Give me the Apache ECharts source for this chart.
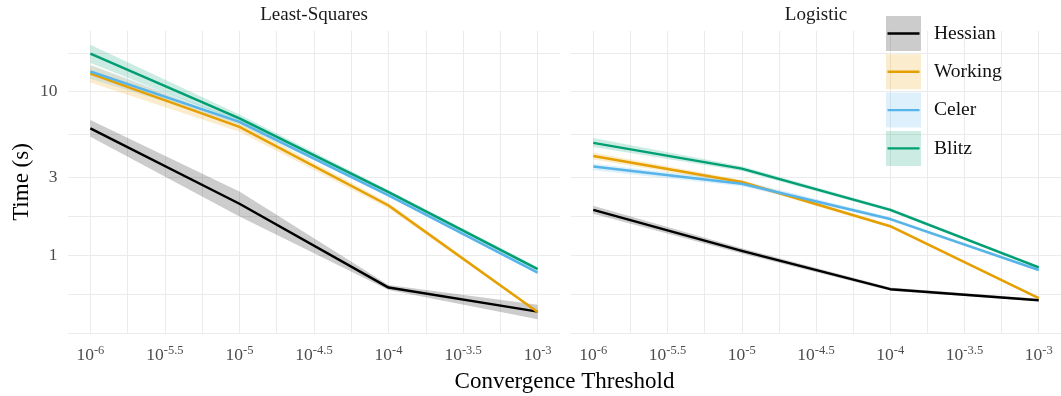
<!DOCTYPE html>
<html><head><meta charset="utf-8">
<script src="https://cdn.jsdelivr.net/npm/echarts@6/dist/echarts.min.js"></script>
<style>html,body{margin:0;padding:0;background:#fff}#c{width:1061px;height:396px}</style>
</head><body><div id="c"></div>
<script>
// ---------- data (seconds) ----------
const thresholds = [1e-6, 1e-5, 1e-4, 1e-3];
const methods = ['Hessian', 'Working', 'Celer', 'Blitz'];
const panels = ['Least-Squares', 'Logistic'];
const xTickExponents = ['-6', '-5.5', '-5', '-4.5', '-4', '-3.5', '-3'];
const yTickLabels = ['1', '3', '10'];

// Least-Squares
const lsHessian   = [5.96, 2.06, 0.632, 0.450];
const lsHessianLo = [5.29, 1.72, 0.610, 0.404];
const lsHessianHi = [6.70, 2.45, 0.655, 0.495];
const lsWorking   = [12.9, 6.09, 2.01, 0.448];
const lsWorkingLo = [11.4, 5.68, 1.93, 0.440];
const lsWorkingHi = [14.6, 6.50, 2.09, 0.456];
const lsCeler     = [13.3, 6.54, 2.32, 0.780];
const lsCelerLo   = [12.0, 6.30, 2.27, 0.765];
const lsCelerHi   = [14.6, 6.80, 2.38, 0.795];
const lsBlitz     = [17.1, 6.86, 2.43, 0.820];
const lsBlitzLo   = [15.0, 6.55, 2.37, 0.800];
const lsBlitzHi   = [19.4, 7.25, 2.50, 0.845];

// Logistic
const lgHessian   = [1.89, 1.06, 0.618, 0.529];
const lgHessianLo = [1.79, 1.02, 0.605, 0.520];
const lgHessianHi = [2.00, 1.10, 0.632, 0.540];
const lgWorking   = [4.04, 2.80, 1.50, 0.544];
const lgWorkingLo = [3.85, 2.72, 1.47, 0.535];
const lgWorkingHi = [4.25, 2.88, 1.53, 0.553];
const lgCeler     = [3.48, 2.73, 1.66, 0.810];
const lgCelerLo   = [3.30, 2.64, 1.62, 0.795];
const lgCelerHi   = [3.62, 2.86, 1.70, 0.825];
const lgBlitz     = [4.86, 3.38, 1.89, 0.840];
const lgBlitzLo   = [4.58, 3.27, 1.85, 0.825];
const lgBlitzHi   = [5.20, 3.50, 1.94, 0.860];

// ---------- styling ----------
const colors = ['#000000', '#E69F00', '#56B4E9', '#009E73'];
const FONT = 'Liberation Serif, "DejaVu Serif", serif';

const panelData = [
  { mid: [lsHessian, lsWorking, lsCeler, lsBlitz],
    lo:  [lsHessianLo, lsWorkingLo, lsCelerLo, lsBlitzLo],
    hi:  [lsHessianHi, lsWorkingHi, lsCelerHi, lsBlitzHi] },
  { mid: [lgHessian, lgWorking, lgCeler, lgBlitz],
    lo:  [lgHessianLo, lgWorkingLo, lgCelerLo, lgBlitzLo],
    hi:  [lgHessianHi, lgWorkingHi, lgCelerHi, lgBlitzHi] }
];

function rgba(hex, a) {
  const n = parseInt(hex.slice(1), 16);
  return 'rgba(' + (n >> 16 & 255) + ',' + (n >> 8 & 255) + ',' + (n & 255) + ',' + a + ')';
}

// log10 scales (ggplot-like 5% expansion)
const lx = thresholds.map(Math.log10);
const xR = lx[lx.length - 1] - lx[0];
const X_MIN = lx[0] - 0.05 * xR, X_MAX = lx[lx.length - 1] + 0.05 * xR;
let allLo = [], allHi = [];
panelData.forEach(p => { p.lo.forEach(a => allLo = allLo.concat(a)); p.hi.forEach(a => allHi = allHi.concat(a)); });
const yLo = Math.log10(Math.min(...allLo)), yHi = Math.log10(Math.max(...allHi));
const Y_MIN = yLo - 0.05 * (yHi - yLo), Y_MAX = yHi + 0.05 * (yHi - yLo);

// ticks & grid lines
const xTickValues = xTickExponents.map(Number);
const xGrid = [];
xTickValues.forEach((v, i) => { xGrid.push(v); if (i < xTickValues.length - 1) xGrid.push((v + xTickValues[i + 1]) / 2); });
const yTickValues = yTickLabels.map(s => Math.log10(Number(s)));
const yd = yTickValues[1] - yTickValues[0];
const yExt = [yTickValues[0] - yd].concat(yTickValues, [yTickValues[yTickValues.length - 1] + yd]);
const yGrid = [];
yExt.forEach((v, i) => { yGrid.push(v); if (i < yExt.length - 1) yGrid.push((v + yExt[i + 1]) / 2); });
const yGridIn = yGrid.filter(v => v >= Y_MIN && v <= Y_MAX);

// ---------- series ----------
const series = [];
// ribbons: one polygon per method, vertices placed through the axes with api.coord
panelData.forEach((pd, p) => {
  methods.forEach((m, k) => {
    const hiPts = thresholds.map((t, i) => [Math.log10(t), Math.log10(pd.hi[k][i])]);
    const loPts = thresholds.map((t, i) => [Math.log10(t), Math.log10(pd.lo[k][i])]);
    series.push({
      type: 'custom', name: m + ' ribbon', xAxisIndex: p, yAxisIndex: p, silent: true, z: 1,
      data: [hiPts[0]],
      renderItem: (params, api) => {
        const pts = hiPts.map(q => api.coord(q)).concat(loPts.slice().reverse().map(q => api.coord(q)));
        return { type: 'polygon', shape: { points: pts }, style: { fill: rgba(colors[k], 0.2), stroke: null } };
      }
    });
  });
});
panelData.forEach((pd, p) => {
  methods.forEach((m, k) => {
    series.push({
      type: 'line', name: m, xAxisIndex: p, yAxisIndex: p, symbol: 'none', z: 2,
      lineStyle: { color: colors[k], width: 2.5, join: 'round' },
      itemStyle: { color: colors[k] },
      data: thresholds.map((t, i) => [Math.log10(t), Math.log10(pd.mid[k][i])])
    });
  });
});

const grids = [
  { left: 68, top: 31, width: 492, height: 302 },
  { left: 571, top: 31, width: 490, height: 302 }
];

const xAxes = grids.map((g, p) => ({
  gridIndex: p, type: 'value', min: X_MIN, max: X_MAX,
  axisLine: { show: false },
  axisTick: { show: false, customValues: xGrid },
  splitLine: { show: true, lineStyle: { color: '#EBEBEB', width: 1 } },
  axisLabel: {
    customValues: xTickValues, margin: 14,
    formatter: v => {
      let idx = xTickValues.findIndex(t => Math.abs(t - v) < 1e-6);
      return '{b|10}{s|' + (idx >= 0 ? xTickExponents[idx] : v) + '}';
    },
    rich: {
      b: { fontFamily: FONT, fontSize: 17.5, lineHeight: 17.5, color: '#4D4D4D', verticalAlign: 'bottom' },
      s: { fontFamily: FONT, fontSize: 12.5, lineHeight: 12.5, color: '#4D4D4D', verticalAlign: 'bottom', padding: [0, 0, 7.5, 0] }
    }
  }
}));

const yAxes = grids.map((g, p) => ({
  gridIndex: p, type: 'value', min: Y_MIN, max: Y_MAX,
  axisLine: { show: false },
  axisTick: { show: false, customValues: yGridIn },
  splitLine: { show: true, lineStyle: { color: '#EBEBEB', width: 1 } },
  axisLabel: {
    show: p === 0, customValues: yTickValues, margin: 10.5,
    fontFamily: FONT, fontSize: 17.5, color: '#4D4D4D',
    formatter: v => {
      let idx = yTickValues.findIndex(t => Math.abs(t - v) < 1e-6);
      return idx >= 0 ? yTickLabels[idx] : '';
    }
  },
  name: p === 0 ? 'Time (s)' : '',
  nameLocation: 'middle', nameGap: 35, nameRotate: 90,
  nameTextStyle: { fontFamily: FONT, fontSize: 23, color: '#000' }
}));

const legendText = { fontFamily: FONT, fontSize: 19.5, color: '#111', padding: [0, 0, 0, 8] };

const option = {
  animation: false,
  backgroundColor: '#ffffff',
  title: [
    { text: panels[0], left: 314, top: 6, textAlign: 'center', padding: 0,
      textStyle: { fontFamily: FONT, fontSize: 19, fontWeight: 'normal', color: '#1A1A1A' } },
    { text: panels[1], left: 816, top: 6, textAlign: 'center', padding: 0,
      textStyle: { fontFamily: FONT, fontSize: 19, fontWeight: 'normal', color: '#1A1A1A' } },
    { text: 'Convergence Threshold', left: 564.5, top: 370, textAlign: 'center', padding: 0,
      textStyle: { fontFamily: FONT, fontSize: 23, fontWeight: 'normal', color: '#000' } }
  ],
  grid: grids,
  xAxis: xAxes,
  yAxis: yAxes,
  legend: [
    { orient: 'vertical', left: 886, top: 16, padding: 0, itemWidth: 35, itemHeight: 35, itemGap: 3.3,
      icon: 'rect', selectedMode: false, textStyle: legendText,
      data: methods.map((m, k) => ({ name: m, itemStyle: { color: rgba(colors[k], 0.2), borderWidth: 0 } })) },
    { orient: 'vertical', left: 887.5, top: 16, padding: 0, itemWidth: 32, itemHeight: 35, itemGap: 3.3,
      icon: 'path://M0 0L0 0ZM0 16.3H32V18.7H0ZM0 35L0 35Z', symbolKeepAspect: true,
      selectedMode: false, formatter: () => '', textStyle: legendText,
      data: methods.map((m, k) => ({ name: m, itemStyle: { color: colors[k], borderWidth: 0 } })) }
  ],
  series: series
};

const chart = echarts.init(document.getElementById('c'), null, { renderer: 'canvas' });
chart.setOption(option);
</script>
</body></html>
